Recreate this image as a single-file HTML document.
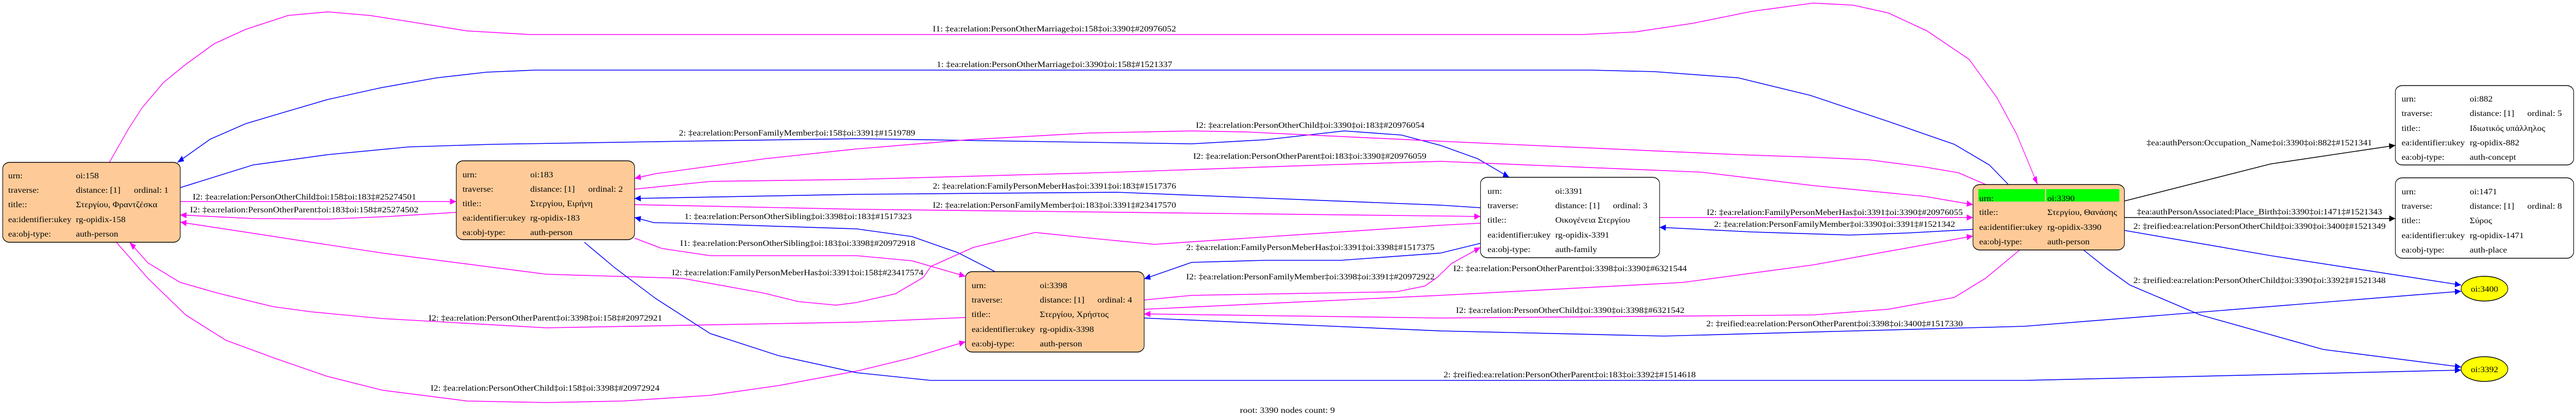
<!DOCTYPE html>
<html><head><meta charset="utf-8">
<style>
html,body{margin:0;padding:0;background:#fff;overflow:hidden;width:100%;height:100%;}
svg{display:block;width:100vw;height:100vh;}
text{font-family:"Liberation Serif","DejaVu Serif",serif;font-size:16px;fill:#000;}
.m{fill:none;stroke:#ff00ff;stroke-width:1.6;}
.b{fill:none;stroke:#0000ff;stroke-width:1.6;}
.k{fill:none;stroke:#000;stroke-width:1.6;}
</style></head><body>
<svg viewBox="0 0 6617 809" preserveAspectRatio="none" xmlns="http://www.w3.org/2000/svg">
<defs>
<marker id="am" markerUnits="userSpaceOnUse" markerWidth="20" markerHeight="14" refX="16" refY="6" orient="auto"><path d="M0,0 L16,6 L0,12 z" fill="#ff00ff"/></marker>
<marker id="ab" markerUnits="userSpaceOnUse" markerWidth="20" markerHeight="14" refX="16" refY="6" orient="auto"><path d="M0,0 L16,6 L0,12 z" fill="#0000ff"/></marker>
<marker id="ak" markerUnits="userSpaceOnUse" markerWidth="20" markerHeight="14" refX="16" refY="6" orient="auto"><path d="M0,0 L16,6 L0,12 z" fill="#000"/></marker>
</defs>
<rect width="6617" height="809" fill="#fff"/>

<!-- edges -->
<polyline class="m" marker-end="url(#am)" points="281,315 330,250 365,209 420,160 477,125 550,85 631,57 740,30 842,23 950,30 1052,42 1200,60 1361,67 4064,67 4200,62 4350,45 4500,22 4657,6 4760,10 4850,25 4950,60 5058,115 5130,190 5180,260 5234,358"/>
<polyline class="b" marker-end="url(#ab)" points="5159,358 5110,320 5020,280 4848,235 4650,185 4465,151 4250,139 4083,136 1375,136 1250,140 1122,151 980,170 842,193 720,220 631,240 540,270 456,315"/>
<polyline class="b" marker-end="url(#ab)" points="463,364 650,320 842,300 1050,285 1263,280 1754,274 2200,269 2700,275 3061,279 3252,271 3453,254 3600,262 3700,282 3796,308 3877,344"/>
<polyline class="m" marker-end="url(#am)" points="5101,358 5030,335 4944,324 4800,310 4657,305 4465,300 3700,274 3200,256 3061,254 2800,258 2487,271 2200,289 1964,308 1800,325 1684,337 1630,346"/>
<polyline class="m" marker-end="url(#am)" points="1630,367 1824,352 2200,348 2870,334 3400,320 3700,313 4370,334 4657,360 4944,381 5068,397"/>
<polyline class="b" marker-end="url(#ab)" points="3803,403 3700,398 2870,373 2200,377 1630,385"/>
<polyline class="m" marker-end="url(#am)" points="1630,397 2200,406 3700,419 3803,420"/>
<polyline class="b" marker-end="url(#ab)" points="2556,527 2460,490 2343,459 2200,444 1754,433 1680,432 1630,422"/>
<polyline class="m" marker-end="url(#am)" points="1630,462 1700,482 1824,496 2200,496 2343,506 2480,536"/>
<polyline class="m" marker-end="url(#am)" points="3803,433 3700,437 2965,474 2800,462 2659,451 2500,480 2391,517 2372,538 2300,570 2200,587 2147,592 2050,585 1964,569 1754,540 1403,532 982,491 463,431"/>
<polyline class="m" marker-end="url(#am)" points="463,391 1172,391"/>
<polyline class="m" marker-end="url(#am)" points="1172,412 1000,420 842,425 650,424 463,417"/>
<polyline class="m" marker-end="url(#am)" points="2480,616 2200,625 1403,636 982,618 800,605 702,595 561,569 463,548 380,510 333,470"/>
<polyline class="m" marker-end="url(#am)" points="299,470 380,540 477,611 580,660 702,694 840,730 982,757 1200,778 1403,781 1600,778 1824,767 2000,748 2200,720 2343,694 2480,663"/>
<polyline class="b" marker-end="url(#ab)" points="3803,472 3700,491 3444,505 3252,505 3061,509 2939,541"/>
<polyline class="m" marker-end="url(#am)" points="2939,582 3061,573 3587,566 3660,555 3692,538 3729,511 3803,480"/>
<polyline class="m" marker-end="url(#am)" points="2939,600 3700,573 4322,548 4657,514 5068,458"/>
<polyline class="m" marker-end="url(#am)" points="5188,485 5100,540 5020,577 4850,600 4657,611 3700,617 2939,609"/>
<polyline class="b" marker-end="url(#ab)" points="2939,617 3700,642 4274,652 5200,633 6322,565"/>
<polyline class="b" marker-end="url(#ab)" points="1501,470 1580,520 1684,579 1824,647 2000,690 2200,723 2391,738 5200,738 6322,718"/>
<polyline class="m" marker-end="url(#am)" points="4263,422 5068,422"/>
<polyline class="b" marker-end="url(#ab)" points="5068,445 4900,452 4752,456 4500,450 4263,441"/>
<polyline class="k" marker-end="url(#ak)" points="5457,390 5833,318 6153,282"/>
<polyline class="k" marker-end="url(#ak)" points="5457,422 6153,424"/>
<polyline class="b" marker-end="url(#ab)" points="5457,447 5833,496 6322,553"/>
<polyline class="b" marker-end="url(#ab)" points="5352,485 5410,520 5471,553 5652,611 5968,678 6322,712"/>

<!-- edge labels -->
<g>
<text x="2396" y="61" textLength="625" lengthAdjust="spacingAndGlyphs">I1: ‡ea:relation:PersonOtherMarriage‡oi:158‡oi:3390‡#20976052</text>
<text x="2406" y="130" textLength="605" lengthAdjust="spacingAndGlyphs">1: ‡ea:relation:PersonOtherMarriage‡oi:3390‡oi:158‡#1521337</text>
<text x="1744" y="263" textLength="607" lengthAdjust="spacingAndGlyphs">2: ‡ea:relation:PersonFamilyMember‡oi:158‡oi:3391‡#1519789</text>
<text x="3072" y="248" textLength="587" lengthAdjust="spacingAndGlyphs">I2: ‡ea:relation:PersonOtherChild‡oi:3390‡oi:183‡#20976054</text>
<text x="3065" y="308" textLength="599" lengthAdjust="spacingAndGlyphs">I2: ‡ea:relation:PersonOtherParent‡oi:183‡oi:3390‡#20976059</text>
<text x="2396" y="366" textLength="625" lengthAdjust="spacingAndGlyphs">2: ‡ea:relation:FamilyPersonMeberHas‡oi:3391‡oi:183‡#1517376</text>
<text x="2396" y="403" textLength="625" lengthAdjust="spacingAndGlyphs">I2: ‡ea:relation:PersonFamilyMember‡oi:183‡oi:3391‡#23417570</text>
<text x="1758" y="425" textLength="584" lengthAdjust="spacingAndGlyphs">1: ‡ea:relation:PersonOtherSibling‡oi:3398‡oi:183‡#1517323</text>
<text x="1747" y="477" textLength="604" lengthAdjust="spacingAndGlyphs">I1: ‡ea:relation:PersonOtherSibling‡oi:183‡oi:3398‡#20972918</text>
<text x="1726" y="534" textLength="646" lengthAdjust="spacingAndGlyphs">I2: ‡ea:relation:FamilyPersonMeberHas‡oi:3391‡oi:158‡#23417574</text>
<text x="495" y="387" textLength="574" lengthAdjust="spacingAndGlyphs">I2: ‡ea:relation:PersonOtherChild‡oi:158‡oi:183‡#25274501</text>
<text x="488" y="412" textLength="587" lengthAdjust="spacingAndGlyphs">I2: ‡ea:relation:PersonOtherParent‡oi:183‡oi:158‡#25274502</text>
<text x="1101" y="622" textLength="600" lengthAdjust="spacingAndGlyphs">I2: ‡ea:relation:PersonOtherParent‡oi:3398‡oi:158‡#20972921</text>
<text x="1106" y="758" textLength="588" lengthAdjust="spacingAndGlyphs">I2: ‡ea:relation:PersonOtherChild‡oi:158‡oi:3398‡#20972924</text>
<text x="3047" y="485" textLength="638" lengthAdjust="spacingAndGlyphs">2: ‡ea:relation:FamilyPersonMeberHas‡oi:3391‡oi:3398‡#1517375</text>
<text x="3047" y="542" textLength="638" lengthAdjust="spacingAndGlyphs">I2: ‡ea:relation:PersonFamilyMember‡oi:3398‡oi:3391‡#20972922</text>
<text x="3733" y="526" textLength="600" lengthAdjust="spacingAndGlyphs">I2: ‡ea:relation:PersonOtherParent‡oi:3398‡oi:3390‡#6321544</text>
<text x="3740" y="607" textLength="587" lengthAdjust="spacingAndGlyphs">I2: ‡ea:relation:PersonOtherChild‡oi:3390‡oi:3398‡#6321542</text>
<text x="4383" y="633" textLength="659" lengthAdjust="spacingAndGlyphs">2: ‡reified:ea:relation:PersonOtherParent‡oi:3398‡oi:3400‡#1517330</text>
<text x="3708" y="732" textLength="648" lengthAdjust="spacingAndGlyphs">2: ‡reified:ea:relation:PersonOtherParent‡oi:183‡oi:3392‡#1514618</text>
<text x="4384" y="417" textLength="658" lengthAdjust="spacingAndGlyphs">I2: ‡ea:relation:FamilyPersonMeberHas‡oi:3391‡oi:3390‡#20976055</text>
<text x="4403" y="440" textLength="619" lengthAdjust="spacingAndGlyphs">2: ‡ea:relation:PersonFamilyMember‡oi:3390‡oi:3391‡#1521342</text>
<text x="5514" y="282" textLength="579" lengthAdjust="spacingAndGlyphs">‡ea:authPerson:Occupation_Name‡oi:3390‡oi:882‡#1521341</text>
<text x="5489" y="416" textLength="630" lengthAdjust="spacingAndGlyphs">‡ea:authPersonAssociated:Place_Birth‡oi:3390‡oi:1471‡#1521343</text>
<text x="5480" y="444" textLength="648" lengthAdjust="spacingAndGlyphs">2: ‡reified:ea:relation:PersonOtherChild‡oi:3390‡oi:3400‡#1521349</text>
<text x="5480" y="549" textLength="648" lengthAdjust="spacingAndGlyphs">2: ‡reified:ea:relation:PersonOtherChild‡oi:3390‡oi:3392‡#1521348</text>
<text x="3185" y="801" textLength="244" lengthAdjust="spacingAndGlyphs">root: 3390 nodes count: 9</text>
</g>

<!-- node 158 -->
<rect x="7" y="315" width="456" height="155" rx="18" ry="12" fill="#fecb98" stroke="#000" stroke-width="1.5"/>
<g>
<text transform="translate(21,346) scale(1.44,1)">urn:</text><text transform="translate(195,346) scale(1.44,1)">oi:158</text>
<text transform="translate(21,374) scale(1.44,1)">traverse:</text><text transform="translate(195,374) scale(1.44,1)">distance: [1]</text><text transform="translate(344,374) scale(1.44,1)">ordinal: 1</text>
<text transform="translate(21,402) scale(1.44,1)">title::</text><text transform="translate(195,402) scale(1.44,1)">Στεργίου, Φραντζέσκα</text>
<text transform="translate(21,431) scale(1.44,1)">ea:identifier:ukey</text><text transform="translate(195,431) scale(1.44,1)">rg-opidix-158</text>
<text transform="translate(21,459) scale(1.44,1)">ea:obj-type:</text><text transform="translate(195,459) scale(1.44,1)">auth-person</text>
</g>

<!-- node 183 -->
<rect x="1172" y="312" width="458" height="153" rx="18" ry="12" fill="#fecb98" stroke="#000" stroke-width="1.5"/>
<g>
<text transform="translate(1188,344) scale(1.44,1)">urn:</text><text transform="translate(1362,344) scale(1.44,1)">oi:183</text>
<text transform="translate(1188,372) scale(1.44,1)">traverse:</text><text transform="translate(1362,372) scale(1.44,1)">distance: [1]</text><text transform="translate(1511,372) scale(1.44,1)">ordinal: 2</text>
<text transform="translate(1188,400) scale(1.44,1)">title::</text><text transform="translate(1362,400) scale(1.44,1)">Στεργίου, Ειρήνη</text>
<text transform="translate(1188,428) scale(1.44,1)">ea:identifier:ukey</text><text transform="translate(1362,428) scale(1.44,1)">rg-opidix-183</text>
<text transform="translate(1188,456) scale(1.44,1)">ea:obj-type:</text><text transform="translate(1362,456) scale(1.44,1)">auth-person</text>
</g>

<!-- node 3398 -->
<rect x="2480" y="527" width="459" height="156" rx="18" ry="12" fill="#fecb98" stroke="#000" stroke-width="1.5"/>
<g>
<text transform="translate(2496,559) scale(1.44,1)">urn:</text><text transform="translate(2671,559) scale(1.44,1)">oi:3398</text>
<text transform="translate(2496,587) scale(1.44,1)">traverse:</text><text transform="translate(2671,587) scale(1.44,1)">distance: [1]</text><text transform="translate(2819,587) scale(1.44,1)">ordinal: 4</text>
<text transform="translate(2496,615) scale(1.44,1)">title::</text><text transform="translate(2671,615) scale(1.44,1)">Στεργίου, Χρήστος</text>
<text transform="translate(2496,644) scale(1.44,1)">ea:identifier:ukey</text><text transform="translate(2671,644) scale(1.44,1)">rg-opidix-3398</text>
<text transform="translate(2496,672) scale(1.44,1)">ea:obj-type:</text><text transform="translate(2671,672) scale(1.44,1)">auth-person</text>
</g>

<!-- node 3391 -->
<rect x="3803" y="344" width="460" height="156" rx="18" ry="12" fill="#fff" stroke="#000" stroke-width="1.5"/>
<g>
<text transform="translate(3821,376) scale(1.44,1)">urn:</text><text transform="translate(3995,376) scale(1.44,1)">oi:3391</text>
<text transform="translate(3821,404) scale(1.44,1)">traverse:</text><text transform="translate(3995,404) scale(1.44,1)">distance: [1]</text><text transform="translate(4143,404) scale(1.44,1)">ordinal: 3</text>
<text transform="translate(3821,432) scale(1.44,1)">title::</text><text transform="translate(3995,432) scale(1.44,1)">Οικογένεια Στεργίου</text>
<text transform="translate(3821,461) scale(1.44,1)">ea:identifier:ukey</text><text transform="translate(3995,461) scale(1.44,1)">rg-opidix-3391</text>
<text transform="translate(3821,489) scale(1.44,1)">ea:obj-type:</text><text transform="translate(3995,489) scale(1.44,1)">auth-family</text>
</g>

<!-- node 3390 root -->
<rect x="5068" y="358" width="389" height="127" rx="18" ry="12" fill="#fecb98" stroke="#000" stroke-width="1.5"/>
<rect x="5082" y="367" width="171" height="24" fill="#00ff00"/>
<rect x="5256" y="367" width="188" height="24" fill="#00ff00"/>
<g>
<text transform="translate(5084,390) scale(1.44,1)">urn:</text><text transform="translate(5259,390) scale(1.44,1)">oi:3390</text>
<text transform="translate(5084,417) scale(1.44,1)">title::</text><text transform="translate(5259,417) scale(1.44,1)">Στεργίου, Θανάσης</text>
<text transform="translate(5084,446) scale(1.44,1)">ea:identifier:ukey</text><text transform="translate(5259,446) scale(1.44,1)">rg-opidix-3390</text>
<text transform="translate(5084,474) scale(1.44,1)">ea:obj-type:</text><text transform="translate(5259,474) scale(1.44,1)">auth-person</text>
</g>

<!-- node 882 -->
<rect x="6153" y="166" width="458" height="154" rx="18" ry="12" fill="#fff" stroke="#000" stroke-width="1.5"/>
<g>
<text transform="translate(6169,197) scale(1.44,1)">urn:</text><text transform="translate(6344,197) scale(1.44,1)">oi:882</text>
<text transform="translate(6169,225) scale(1.44,1)">traverse:</text><text transform="translate(6344,225) scale(1.44,1)">distance: [1]</text><text transform="translate(6492,225) scale(1.44,1)">ordinal: 5</text>
<text transform="translate(6169,254) scale(1.44,1)">title::</text><text transform="translate(6344,254) scale(1.44,1)">Ιδιωτικός υπάλληλος</text>
<text transform="translate(6169,282) scale(1.44,1)">ea:identifier:ukey</text><text transform="translate(6344,282) scale(1.44,1)">rg-opidix-882</text>
<text transform="translate(6169,310) scale(1.44,1)">ea:obj-type:</text><text transform="translate(6344,310) scale(1.44,1)">auth-concept</text>
</g>

<!-- node 1471 -->
<rect x="6153" y="345" width="458" height="156" rx="18" ry="12" fill="#fff" stroke="#000" stroke-width="1.5"/>
<g>
<text transform="translate(6169,377) scale(1.44,1)">urn:</text><text transform="translate(6344,377) scale(1.44,1)">oi:1471</text>
<text transform="translate(6169,405) scale(1.44,1)">traverse:</text><text transform="translate(6344,405) scale(1.44,1)">distance: [1]</text><text transform="translate(6492,405) scale(1.44,1)">ordinal: 8</text>
<text transform="translate(6169,433) scale(1.44,1)">title::</text><text transform="translate(6344,433) scale(1.44,1)">Σύρος</text>
<text transform="translate(6169,462) scale(1.44,1)">ea:identifier:ukey</text><text transform="translate(6344,462) scale(1.44,1)">rg-opidix-1471</text>
<text transform="translate(6169,490) scale(1.44,1)">ea:obj-type:</text><text transform="translate(6344,490) scale(1.44,1)">auth-place</text>
</g>

<!-- ellipses -->
<ellipse cx="6382" cy="560" rx="60" ry="24" fill="#ffff00" stroke="#000" stroke-width="1.5"/>
<text transform="translate(6382,566) scale(1.44,1)" text-anchor="middle">oi:3400</text>
<ellipse cx="6382" cy="716" rx="60" ry="24" fill="#ffff00" stroke="#000" stroke-width="1.5"/>
<text transform="translate(6382,722) scale(1.44,1)" text-anchor="middle">oi:3392</text>
</svg>
</body></html>
